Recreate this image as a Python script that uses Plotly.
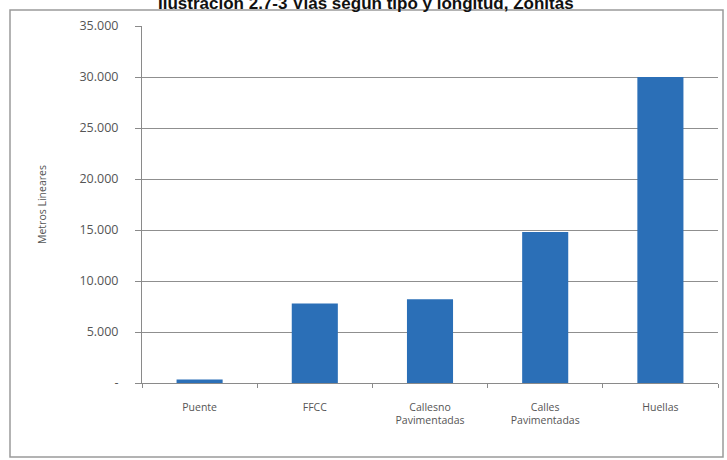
import plotly.graph_objects as go

categories = ["Puente", "FFCC", "Callesno<br>Pavimentadas", "Calles<br>Pavimentadas", "Huellas"]
values = [350, 7800, 8200, 14800, 30000]
tick_vals = [0, 5000, 10000, 15000, 20000, 25000, 30000, 35000]
tick_text = ["-", "5.000", "10.000", "15.000", "20.000", "25.000", "30.000", "35.000"]
title_text = "Ilustración 2.7-3 Vías según tipo y longitud, Zonitas"
y_title = "Metros Lineares"

W, H = 727, 460
L, R, T, B = 142, 9, 26, 77
pw = W - L - R
ph = H - T - B

def px_x(p):
    return (p - L) / pw

def px_y(p):
    return (H - B - p) / ph

fig = go.Figure()
fig.add_trace(go.Bar(x=categories, y=values, marker_color="#2B6FB7",
                     marker_line_width=0, width=0.4))

fig.update_layout(
    width=W, height=H,
    margin=dict(l=L, r=R, t=T, b=B),
    paper_bgcolor="white", plot_bgcolor="white",
    showlegend=False,
    font=dict(family="Open Sans, Liberation Sans, sans-serif", color="#555555", size=10),
    xaxis=dict(
        showline=True, linecolor="#8a8a8a", linewidth=1,
        ticks="outside", tickson="boundaries", ticklen=4, tickcolor="#8a8a8a",
        tickfont=dict(size=10.5, color="#555555"),
        ticklabelstandoff=14,
        showgrid=False,
    ),
    yaxis=dict(
        range=[0, 35000], tickvals=tick_vals, ticktext=tick_text,
        showline=True, linecolor="#8a8a8a", linewidth=1,
        ticks="outside", ticklen=6, tickcolor="#8a8a8a",
        showgrid=True, gridcolor="#8f8f8f", gridwidth=1,
        zeroline=False,
        tickfont=dict(size=12.5, color="#555555"),
        ticklabelstandoff=14,
        title=dict(text=y_title, font=dict(size=10.5, color="#555555"), standoff=30),
    ),
    shapes=[dict(type="rect", xref="paper", yref="paper",
                 x0=px_x(10), x1=px_x(723), y0=px_y(457), y1=px_y(10),
                 line=dict(color="#9a9a9a", width=1.5), fillcolor="rgba(0,0,0,0)",
                 layer="below")],
    annotations=[dict(text="<b>" + title_text + "</b>", xref="paper", yref="paper",
                      x=px_x(366), y=px_y(3), xanchor="center", yanchor="middle",
                      showarrow=False, font=dict(size=17, color="#111111",
                                                 family="Liberation Sans, Arial, sans-serif"))],
)

fig.write_html("out.html")
